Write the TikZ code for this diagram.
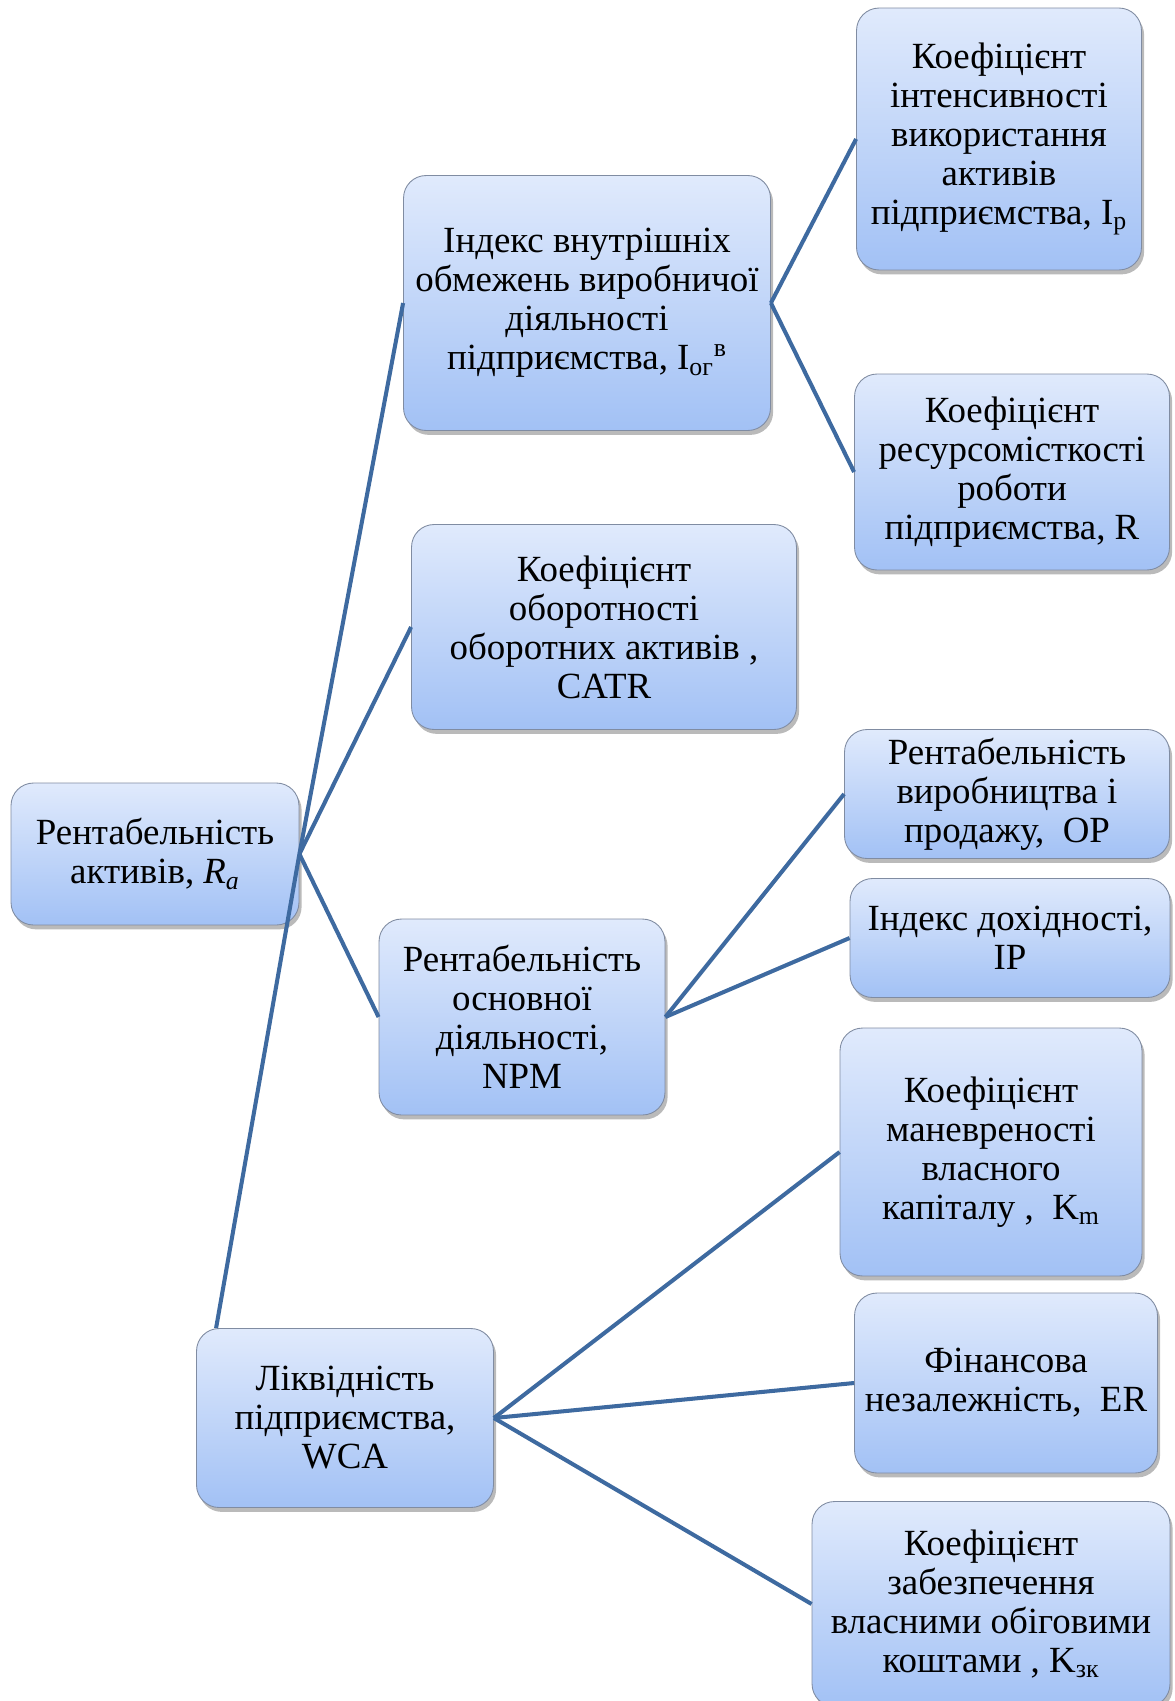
\documentclass[tikz,border=0pt]{standalone}
\usepackage{fontspec}
\setmainfont{Liberation Serif}
\usepackage{tikz}
\usetikzlibrary{shadows}

\definecolor{boxtop}{RGB}{224,234,252}
\definecolor{boxbottom}{RGB}{162,193,245}
\definecolor{boxline}{RGB}{128,140,162}
\definecolor{linkblue}{RGB}{62,106,160}

\begin{document}
\begin{tikzpicture}[x=0.02cm,y=-0.02cm,
        box/.style={rectangle,rounded corners=0.45cm,draw=boxline,line width=0.5pt,
            top color=boxtop,bottom color=boxbottom,align=center,inner sep=2pt,
            font=\fontsize{21}{22.2}\selectfont,
            drop shadow={shadow xshift=1.5pt,shadow yshift=-2.5pt,fill=black!60,opacity=.45}},
        link/.style={draw=linkblue,line width=2.3pt}]
        \useasboundingbox (0,0) rectangle (1175,1701);

        % Root
        \node[box,minimum width=5.76cm,minimum height=2.84cm] (Ra) at (155,854)
            {Рентабельність\\активів, \textit{R}\textsubscript{\textit{a}}};

        % Second level
        \node[box,minimum width=7.34cm,minimum height=5.1cm] (Iog) at (587,303)
            {Індекс внутрішніх\\обмежень виробничої\\діяльності\\підприємства, I\textsubscript{ог}\textsuperscript{в}};
        \node[box,minimum width=7.7cm,minimum height=4.1cm] (CATR) at (604,627)
            {Коефіцієнт\\оборотності\\оборотних активів ,\\CATR};
        \node[box,minimum width=5.72cm,minimum height=3.92cm] (NPM) at (522,1017)
            {Рентабельність\\основної\\діяльності,\\NPM};
        \node[box,minimum width=5.94cm,minimum height=3.58cm] (WCA) at (345,1418)
            {Ліквідність\\підприємства,\\WCA};

        % Third level
        \node[box,minimum width=5.7cm,minimum height=5.24cm] (Ip) at (999,139)
            {Коефіцієнт\\інтенсивності\\використання\\активів\\підприємства, I\textsubscript{p}};
        \node[box,minimum width=6.3cm,minimum height=3.92cm] (R) at (1012,472)
            {Коефіцієнт\\ресурсомісткості\\роботи\\підприємства, R};
        \node[box,minimum width=6.5cm,minimum height=2.58cm] (OP) at (1007,794)
            {Рентабельність\\виробництва і\\продажу,~ OP};
        \node[box,minimum width=6.4cm,minimum height=2.38cm] (IP) at (1010,938)
            {Індекс дохідності,\\IP};
        \node[box,minimum width=6.04cm,minimum height=4.96cm] (Km) at (991,1152)
            {Коефіцієнт\\маневреності\\власного\\капіталу ,~ K\textsubscript{m}};
        \node[box,minimum width=6.06cm,minimum height=3.6cm] (ER) at (1006,1383)
            {Фінансова\\незалежність,~ ER};
        \node[box,minimum width=7.16cm,minimum height=4.1cm] (Kzk) at (991,1604)
            {Коефіцієнт\\забезпечення\\власними обіговими\\коштами , K\textsubscript{зк}};

        % Connectors
        \draw[link] (Ra.east) -- (Iog.west);
        \draw[link] (Ra.east) -- (CATR.west);
        \draw[link] (Ra.east) -- (NPM.west);
        \draw[link] (Ra.east) -- ([xshift=0.4cm]WCA.north west);
        \draw[link] (Iog.east) -- (Ip.west);
        \draw[link] (Iog.east) -- (R.west);
        \draw[link] (NPM.east) -- (OP.west);
        \draw[link] (NPM.east) -- (IP.west);
        \draw[link] (WCA.east) -- (Km.west);
        \draw[link] (WCA.east) -- (ER.west);
        \draw[link] (WCA.east) -- (Kzk.west);
    \end{tikzpicture}
\end{document}
